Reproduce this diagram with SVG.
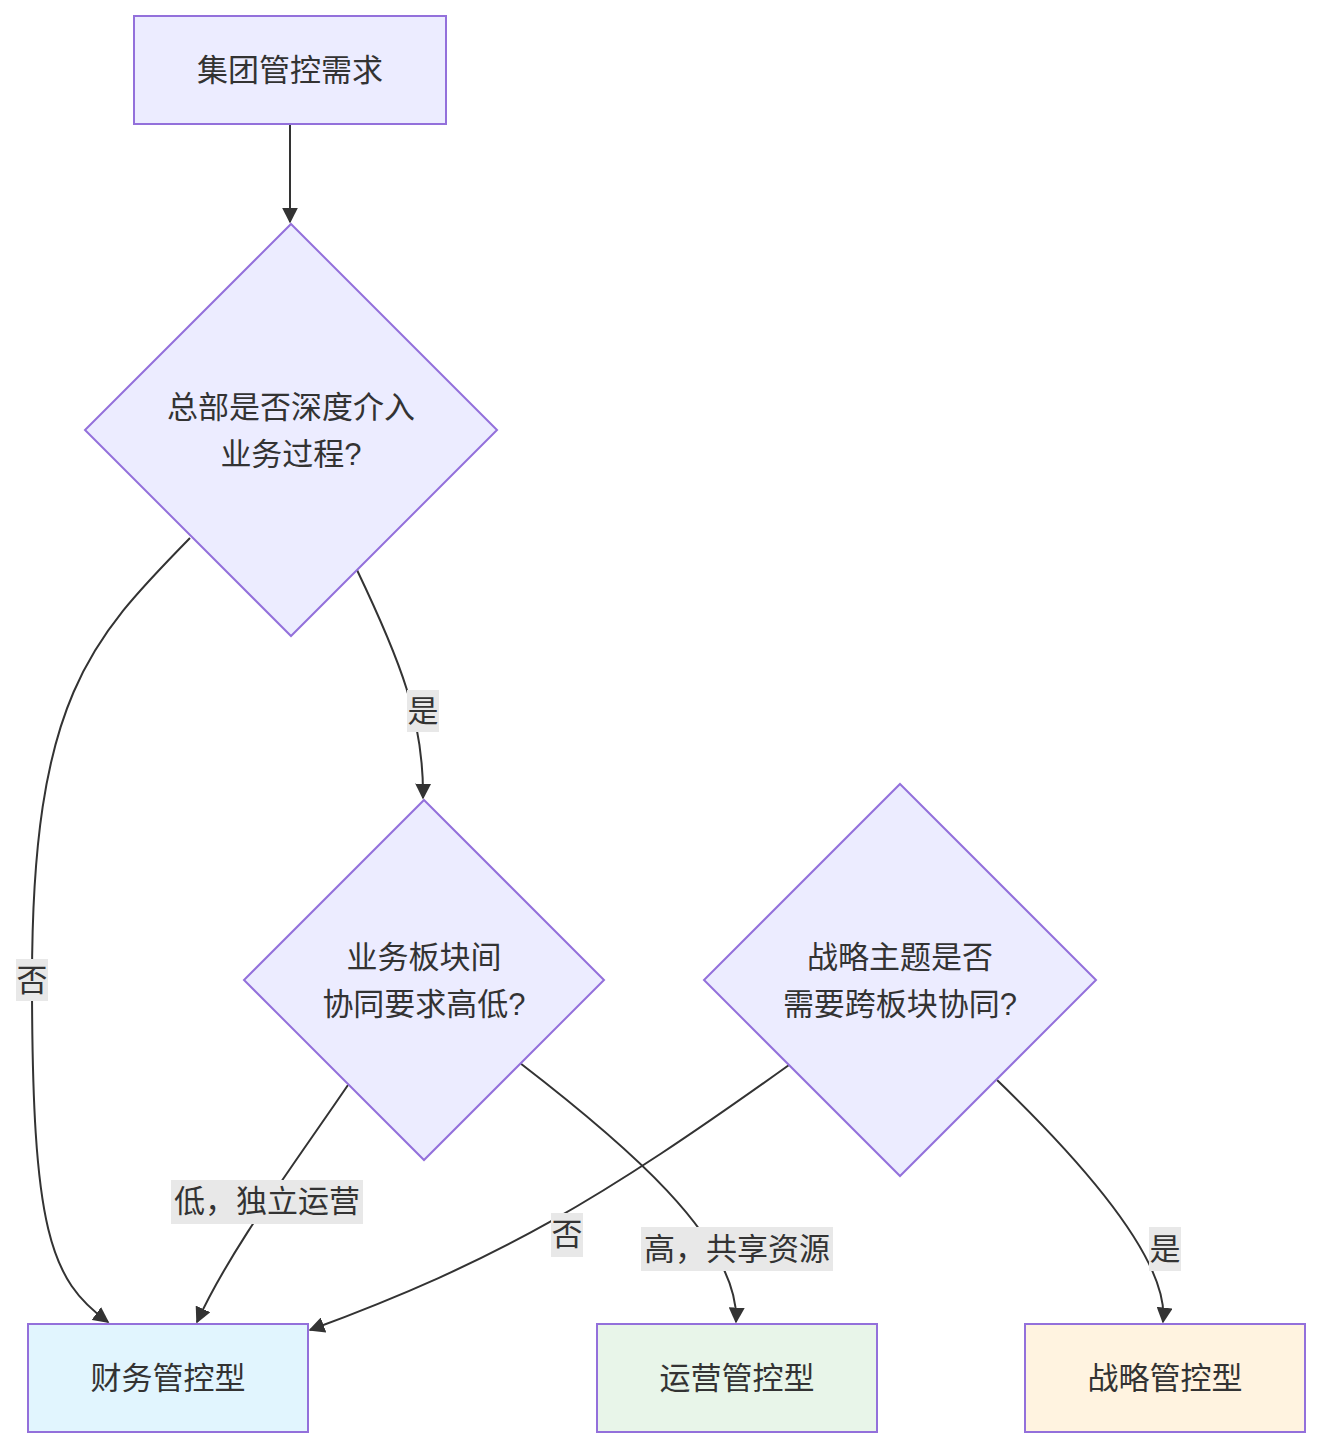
<svg xmlns="http://www.w3.org/2000/svg" width="1320" height="1447" viewBox="0 0 1320 1447">
<style>
.n{stroke:#9370db;stroke-width:2}
.t{font-family:"Liberation Sans","Noto Sans CJK SC",sans-serif;font-size:31px;fill:#333;text-anchor:middle;dominant-baseline:central}
.e{fill:none;stroke:#333;stroke-width:2;marker-end:url(#a)}
.lb{fill:#e8e8e8}
</style>
<defs><marker id="a" viewBox="0 0 10 10" refX="9" refY="5" markerWidth="8" markerHeight="8" orient="auto"><path d="M0,0L10,5L0,10z" fill="#333"/></marker></defs>
<rect width="1320" height="1447" fill="#fff"/>
<g id="connectors">
<path class="e" d="M290,124V222"/>
<path class="e" d="M357,570C400,660 424,720 423,798"/>
<path class="e" d="M190,538C90,640 32,700 32,980C32,1230 50,1280 108,1322"/>
<path class="e" d="M348,1085C290,1170 230,1250 197,1322"/>
<path class="e" d="M520,1063C620,1140 740,1240 736,1322"/>
<path class="e" d="M789,1065C600,1200 500,1260 310,1330"/>
<path class="e" d="M997,1080C1080,1160 1170,1260 1163,1322"/>
<rect class="lb" x="407" y="690" width="32" height="42"/><text class="t" x="423" y="711">是</text>
<rect class="lb" x="16" y="959" width="32" height="42"/><text class="t" x="32" y="980">否</text>
<rect class="lb" x="171" y="1180" width="192" height="44"/><text class="t" x="267" y="1201">低，独立运营</text>
<rect class="lb" x="641" y="1227" width="192" height="44"/><text class="t" x="737" y="1249">高，共享资源</text>
<rect class="lb" x="551" y="1213" width="32" height="44"/><text class="t" x="567" y="1234">否</text>
<rect class="lb" x="1149" y="1227" width="32" height="44"/><text class="t" x="1165" y="1249">是</text>
</g>
<g id="start"><rect class="n" x="134" y="16" width="312" height="108" fill="#ececff"/><text class="t" x="290" y="70">集团管控需求</text></g>
<g id="d1"><path class="n" d="M291,224L497,430L291,636L85,430z" fill="#ececff"/><text class="t" x="291" y="407">总部是否深度介入</text><text class="t" x="291" y="454">业务过程?</text></g>
<g id="d2"><path class="n" d="M424,800L604,980L424,1160L244,980z" fill="#ececff"/><text class="t" x="424" y="957">业务板块间</text><text class="t" x="424" y="1004">协同要求高低?</text></g>
<g id="d3"><path class="n" d="M900,784L1096,980L900,1176L704,980z" fill="#ececff"/><text class="t" x="900" y="957">战略主题是否</text><text class="t" x="900" y="1004">需要跨板块协同?</text></g>
<g id="fin"><rect class="n" x="28" y="1324" width="280" height="108" fill="#e1f5fe"/><text class="t" x="168" y="1378">财务管控型</text></g>
<g id="ops"><rect class="n" x="597" y="1324" width="280" height="108" fill="#e8f5e9"/><text class="t" x="737" y="1378">运营管控型</text></g>
<g id="str"><rect class="n" x="1025" y="1324" width="280" height="108" fill="#fff3e0"/><text class="t" x="1165" y="1378">战略管控型</text></g>
</svg>
